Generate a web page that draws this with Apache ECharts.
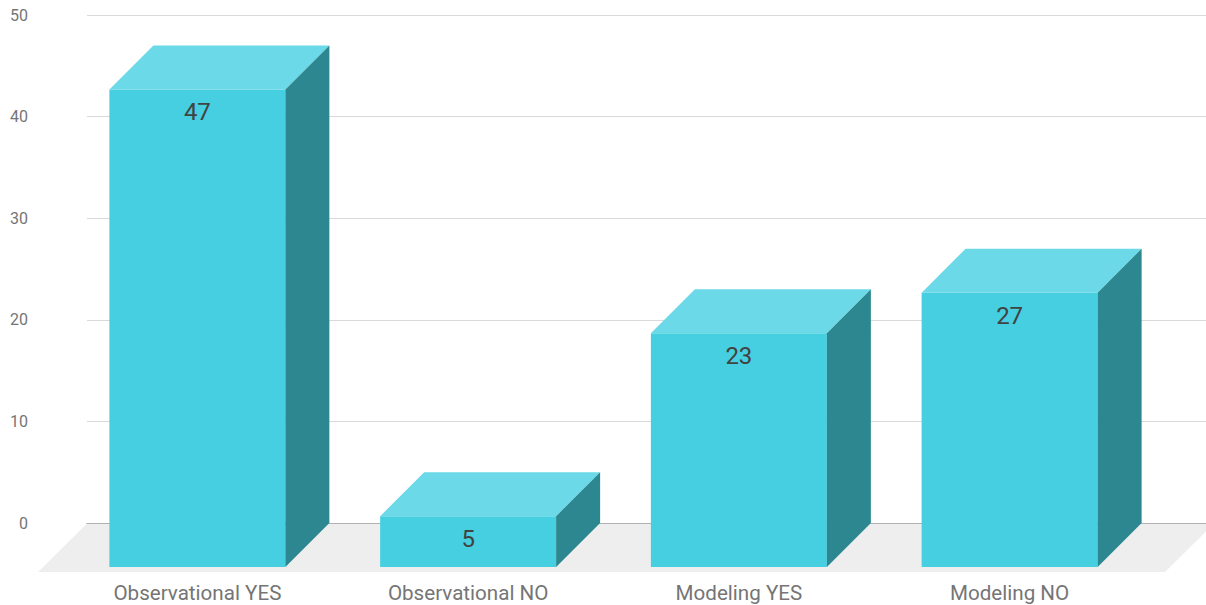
<!DOCTYPE html>
<html>
<head>
<meta charset="utf-8">
<style>
  html, body { margin: 0; padding: 0; background: #ffffff; }
  #chart { width: 1206px; height: 605px; }
</style>
<script src="https://cdn.jsdelivr.net/npm/echarts@6/dist/echarts.min.js"></script>
</head>
<body>
<div id="chart"></div>
<script>
// ---- data ----
const categories = ['Observational YES', 'Observational NO', 'Modeling YES', 'Modeling NO'];
const values = [47, 5, 23, 27];
const yMin = 0;
const yMax = 50;
const yInterval = 10;

// ---- layout / style ----
const GRID_TOP = 15;
const GRID_BOTTOM = 82;
const AXIS_LEFT = 87;      // where gridlines start
const BAR_LEFT = 62;       // category band area
const BAR_RIGHT = 61;
const DEPTH = 44;          // 3D depth offset of bars
const FLOOR_DEPTH = 49;
const BAR_RATIO = 0.65;
const C_FRONT = '#45cfe0';
const C_TOP = '#6bd9e7';
const C_SIDE = '#2c8790';
const C_FLOOR = '#eeeeee';
const FONT = 'Roboto, "Noto Sans", sans-serif';

const chart = echarts.init(document.getElementById('chart'), null, { renderer: 'svg' });

function renderItem(params, api) {
  const i = api.value(0);
  const v = api.value(1);
  const top = api.coord([i, v]);
  const zero = api.coord([i, 0]);
  const cx = top[0];
  const yTop = top[1];
  const y0 = zero[1];
  const w = api.size([1, 0])[0] * BAR_RATIO;
  const xl = cx - w / 2;
  const xr = cx + w / 2;
  const children = [];
  if (params.dataIndex === 0) {
    const W = api.getWidth();
    children.push({
      type: 'polygon',
      z2: 0,
      shape: { points: [
        [AXIS_LEFT, y0 + 0.5], [W + FLOOR_DEPTH - 41, y0 + 0.5],
        [W - 41, y0 + FLOOR_DEPTH], [AXIS_LEFT - FLOOR_DEPTH, y0 + FLOOR_DEPTH]
      ] },
      style: { fill: C_FLOOR }
    });
  }
  children.push({
    type: 'rect', z2: 2,
    shape: { x: xl, y: yTop + DEPTH, width: w, height: y0 - yTop },
    style: { fill: C_FRONT }
  });
  children.push({
    type: 'polygon', z2: 2,
    shape: { points: [[xl, yTop + DEPTH], [xl + DEPTH, yTop], [xr + DEPTH, yTop], [xr, yTop + DEPTH]] },
    style: { fill: C_TOP }
  });
  children.push({
    type: 'polygon', z2: 2,
    shape: { points: [[xr, yTop + DEPTH], [xr + DEPTH, yTop], [xr + DEPTH, y0], [xr, y0 + DEPTH]] },
    style: { fill: C_SIDE }
  });
  children.push({
    type: 'text', z2: 3,
    style: {
      x: cx, y: yTop + DEPTH + 23,
      text: String(v),
      fill: '#424242',
      font: '24px ' + FONT,
      align: 'center',
      verticalAlign: 'middle'
    }
  });
  return { type: 'group', children: children };
}

chart.setOption({
  animation: false,
  backgroundColor: '#ffffff',
  grid: [
    { left: AXIS_LEFT, right: 0, top: GRID_TOP, bottom: GRID_BOTTOM },
    { left: BAR_LEFT, right: BAR_RIGHT, top: GRID_TOP, bottom: GRID_BOTTOM }
  ],
  xAxis: [
    {
      gridIndex: 0, type: 'value', min: 0, max: 1,
      axisLine: { show: true, lineStyle: { color: '#757575', width: 1 } },
      axisTick: { show: false }, axisLabel: { show: false }, splitLine: { show: false }
    },
    {
      gridIndex: 1, type: 'category', data: categories,
      axisLine: { show: false }, axisTick: { show: false },
      axisLabel: { color: '#757575', fontSize: 20.6, fontFamily: FONT, margin: 59, interval: 0 },
      splitLine: { show: false }
    }
  ],
  yAxis: [
    {
      gridIndex: 0, type: 'value', min: yMin, max: yMax, interval: yInterval,
      axisLine: { show: false }, axisTick: { show: false },
      axisLabel: { color: '#757575', fontSize: 16, fontFamily: FONT, margin: 59 },
      splitLine: { show: true, lineStyle: { color: '#d9d9d9', width: 1 } }
    },
    {
      gridIndex: 1, type: 'value', min: yMin, max: yMax, interval: yInterval, show: false
    }
  ],
  series: [{
    type: 'custom',
    xAxisIndex: 1,
    yAxisIndex: 1,
    clip: false,
    renderItem: renderItem,
    encode: { x: 0, y: 1 },
    data: values.map((v, i) => [i, v])
  }]
});
</script>
</body>
</html>
